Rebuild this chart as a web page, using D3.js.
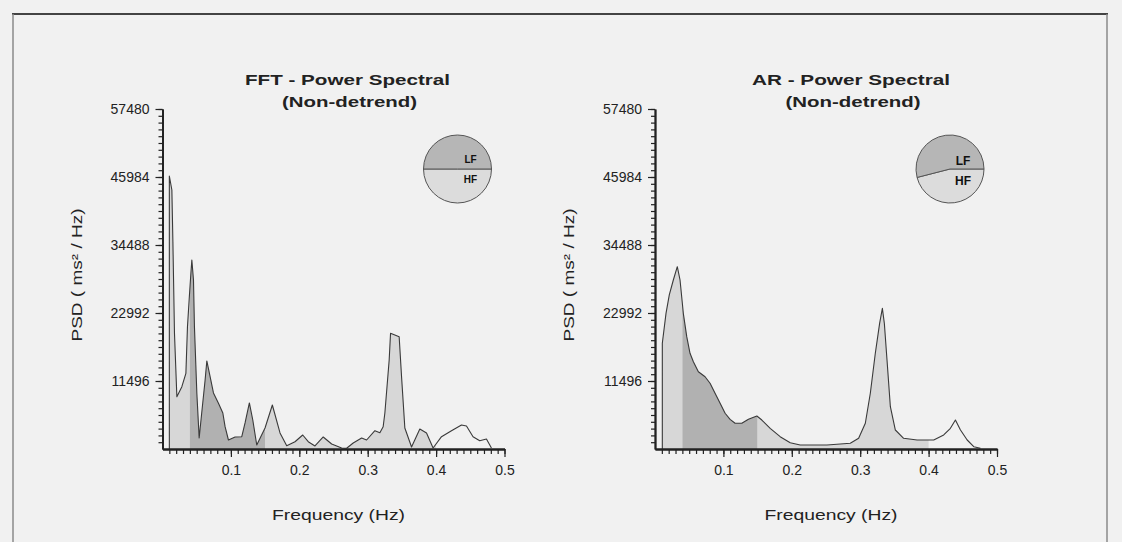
<!DOCTYPE html>
<html>
<head>
<meta charset="utf-8">
<script src="https://cdn.jsdelivr.net/npm/d3@7"></script>
<style>
  body { margin: 0; background: #f1f1f1; }
  svg { display: block; font-family: "Liberation Sans", Arial, sans-serif; }
</style>
</head>
<body>
<svg id="psd" width="1122" height="542"></svg>
<script>
// FFT spectrum (Hz, ms^2/Hz)
var fftFreq = [0.010, 0.0137, 0.0152, 0.0175, 0.021, 0.0283, 0.0342, 0.0365, 0.0394, 0.0415,
  0.0429, 0.0453, 0.0467, 0.0502, 0.0536, 0.0575, 0.0623, 0.0648, 0.0696, 0.0745,
  0.0818, 0.0882, 0.0915, 0.0964, 0.1061, 0.1159, 0.1207, 0.127, 0.132, 0.1378,
  0.1499, 0.1606, 0.1718, 0.1816, 0.1937, 0.205, 0.2131, 0.2229, 0.235, 0.2473,
  0.2619, 0.2692, 0.2788, 0.2911, 0.2984, 0.3105, 0.3178, 0.3226, 0.3251, 0.3314,
  0.3334, 0.3397, 0.346, 0.3495, 0.3543, 0.3641, 0.3762, 0.386, 0.3956, 0.4079,
  0.4225, 0.4371, 0.4444, 0.454, 0.4638, 0.4736, 0.4809];
var fftPsd = [46150, 43790, 35050, 19610, 8840, 10530, 12800, 20680, 26040, 29700,
  31950, 28570, 20680, 9470, 1860, 6300, 11670, 14880, 12220, 9470,
  7730, 6090, 3770, 1520, 2030, 2080, 4400, 7780, 4900, 680,
  3550, 7440, 2710, 560, 1230, 2370, 1230, 510, 2030, 850,
  170, 120, 1010, 1860, 1520, 3090, 2760, 3770, 6090, 15050,
  19560, 19270, 18990, 12220, 3550, 340, 3380, 2710, 170, 2080,
  3090, 4060, 3890, 2080, 1400, 1690, 170];

// AR spectrum
var arFreq = [0.0107, 0.0161, 0.0209, 0.0268, 0.0326, 0.0366, 0.0414, 0.0464, 0.0512, 0.0561,
  0.0634, 0.0732, 0.0805, 0.0878, 0.0952, 0.1025, 0.1098, 0.1171, 0.1269, 0.1366,
  0.1489, 0.1562, 0.1684, 0.183, 0.1977, 0.2123, 0.2514, 0.2855, 0.2977, 0.3075,
  0.3148, 0.3221, 0.3284, 0.3324, 0.3353, 0.3392, 0.3441, 0.3514, 0.3635, 0.3832,
  0.4075, 0.4221, 0.4319, 0.4392, 0.4466, 0.4564, 0.466, 0.4758];
var arPsd = [17870, 22940, 26040, 28570, 30820, 28570, 22940, 18990, 16180, 14760,
  13070, 12220, 11110, 9420, 7730, 6040, 5020, 4350, 4350, 5020,
  5580, 4900, 3500, 2080, 1070, 680, 680, 960, 1810, 4350,
  9420, 16180, 21250, 23790, 21250, 15050, 7150, 3210, 1810, 1520,
  1520, 2370, 3500, 4900, 3210, 1520, 390, 120];

var yTickValues = [11496, 22992, 34488, 45984, 57480];
var xTickValues = [0.1, 0.2, 0.3, 0.4, 0.5];
// VLF, LF, HF bands
var bandEdges = [0, 0.04, 0.15, 0.4];
var bandFills = ["#d7d7d7", "#b1b1b1", "#d7d7d7"];
// LF / HF share shown in the small pies
var fftLfHf = [0.5, 0.5];
var arLfHf = [0.54, 0.46];

var svg = d3.select("svg#psd");

// frame
svg.append("line").attr("x1", 12).attr("x2", 1108).attr("y1", 14).attr("y2", 14)
  .attr("stroke", "#444").attr("stroke-width", 2);
svg.append("line").attr("x1", 13).attr("x2", 13).attr("y1", 14).attr("y2", 542)
  .attr("stroke", "#8a8a8a").attr("stroke-width", 1.5);
svg.append("line").attr("x1", 1107).attr("x2", 1107).attr("y1", 14).attr("y2", 542)
  .attr("stroke", "#8a8a8a").attr("stroke-width", 1.5);

var width = 342, height = 340;

function drawChart(opt) {
  var g = svg.append("g").attr("transform", "translate(" + opt.left + ",109)");

  var x = d3.scaleLinear().domain([0, 0.5]).range([0, width]);
  var y = d3.scaleLinear().domain([0, 57480]).range([height, 0]);

  var pts = opt.freq.map(function(f, i) { return {f: f, v: opt.psd[i]}; });

  var area = d3.area()
    .x(function(d) { return x(d.f); })
    .y0(y(0))
    .y1(function(d) { return y(d.v); });

  // band fills, each clipped to its frequency range
  bandFills.forEach(function(col, i) {
    var id = opt.id + "-band" + i;
    g.append("clipPath").attr("id", id)
      .append("rect")
      .attr("x", x(bandEdges[i]))
      .attr("width", x(bandEdges[i + 1]) - x(bandEdges[i]))
      .attr("y", 0).attr("height", height);
    g.append("path")
      .datum(pts)
      .attr("clip-path", "url(#" + id + ")")
      .attr("fill", col)
      .attr("d", area);
  });

  var line = d3.line()
    .x(function(d) { return x(d.f); })
    .y(function(d) { return y(d.v); });

  g.append("path")
    .datum([{f: opt.freq[0], v: 0}].concat(pts))
    .attr("fill", "none")
    .attr("stroke", "#3a3a3a")
    .attr("stroke-width", 1.1)
    .attr("stroke-linejoin", "round")
    .attr("d", line);

  // minor ticks
  g.append("g")
    .attr("class", "axis")
    .call(d3.axisLeft(y).tickValues(d3.range(1, 51).map(function(i) { return i * 1149.6; }))
      .tickSize(4).tickSizeOuter(0).tickFormat(""));
  g.append("g")
    .attr("class", "axis")
    .attr("transform", "translate(0," + height + ")")
    .call(d3.axisBottom(x).tickValues(d3.range(1, 51).map(function(i) { return i / 100; }))
      .tickSize(5).tickSizeOuter(0).tickFormat(""));

  // major ticks
  g.append("g")
    .attr("class", "axis")
    .call(d3.axisLeft(y).tickValues(yTickValues).tickSize(7).tickPadding(6).tickSizeOuter(0)
      .tickFormat(d3.format("d")));
  g.append("g")
    .attr("class", "axis")
    .attr("transform", "translate(0," + height + ")")
    .call(d3.axisBottom(x).tickValues(xTickValues).tickSize(8).tickPadding(8).tickSizeOuter(0)
      .tickFormat(d3.format(".1f")));

  g.selectAll(".axis path.domain").attr("stroke", "#222").attr("stroke-width", 1.8);
  g.selectAll(".axis line").attr("stroke", "#222").attr("stroke-width", 1.2);
  g.selectAll(".axis text").attr("font-size", 14).attr("fill", "#222")
    .attr("font-family", "'Liberation Sans', Arial, sans-serif");

  // titles
  g.append("text")
    .attr("x", opt.titleX).attr("y", -24)
    .attr("text-anchor", "middle")
    .attr("font-size", 15).attr("font-weight", "bold").attr("fill", "#222")
    .attr("textLength", opt.titleLen).attr("lengthAdjust", "spacingAndGlyphs")
    .text(opt.title);
  g.append("text")
    .attr("x", opt.titleX + 2).attr("y", -2)
    .attr("text-anchor", "middle")
    .attr("font-size", 15).attr("font-weight", "bold").attr("fill", "#222")
    .attr("textLength", 135).attr("lengthAdjust", "spacingAndGlyphs")
    .text("(Non-detrend)");

  // axis labels
  g.append("text")
    .attr("x", 176).attr("y", 411)
    .attr("text-anchor", "middle")
    .attr("font-size", 15).attr("fill", "#222")
    .attr("textLength", 133).attr("lengthAdjust", "spacingAndGlyphs")
    .text("Frequency (Hz)");
  g.append("text")
    .attr("transform", "translate(-81," + (height / 2 - 4) + ") rotate(-90)")
    .attr("text-anchor", "middle")
    .attr("font-size", 14).attr("fill", "#222")
    .attr("textLength", 133).attr("lengthAdjust", "spacingAndGlyphs")
    .text("PSD ( ms\u00b2 / Hz)");

  // LF / HF pie
  var pg = g.append("g").attr("transform", "translate(295,60)");
  var pie = d3.pie().sort(null)
    .startAngle(Math.PI / 2).endAngle(Math.PI / 2 + 2 * Math.PI)
    .value(function(d) { return d.v; });
  var arc = d3.arc().innerRadius(0).outerRadius(34);
  pg.selectAll("path")
    .data(pie([{k: "HF", v: opt.pie[1], c: "#dcdcdc"}, {k: "LF", v: opt.pie[0], c: "#b6b6b6"}]))
    .enter().append("path")
    .attr("d", arc)
    .attr("fill", function(d) { return d.data.c; })
    .attr("stroke", "#555")
    .attr("stroke-width", 1);
  pg.append("text").attr("x", 13).attr("y", opt.lfY)
    .attr("text-anchor", "middle").attr("font-size", opt.pieFont).attr("font-weight", "bold")
    .attr("fill", "#111").text("LF");
  pg.append("text").attr("x", 13).attr("y", opt.hfY)
    .attr("text-anchor", "middle").attr("font-size", opt.pieFont).attr("font-weight", "bold")
    .attr("fill", "#111").text("HF");
}

drawChart({id: "fft", left: 162.5, freq: fftFreq, psd: fftPsd, pie: fftLfHf,
  title: "FFT - Power Spectral", titleX: 185, titleLen: 205, pieFont: 10, lfY: -6, hfY: 14});
drawChart({id: "ar", left: 655, freq: arFreq, psd: arPsd, pie: arLfHf,
  title: "AR - Power Spectral", titleX: 196, titleLen: 198, pieFont: 12, lfY: -4, hfY: 16});
</script>
</body>
</html>
